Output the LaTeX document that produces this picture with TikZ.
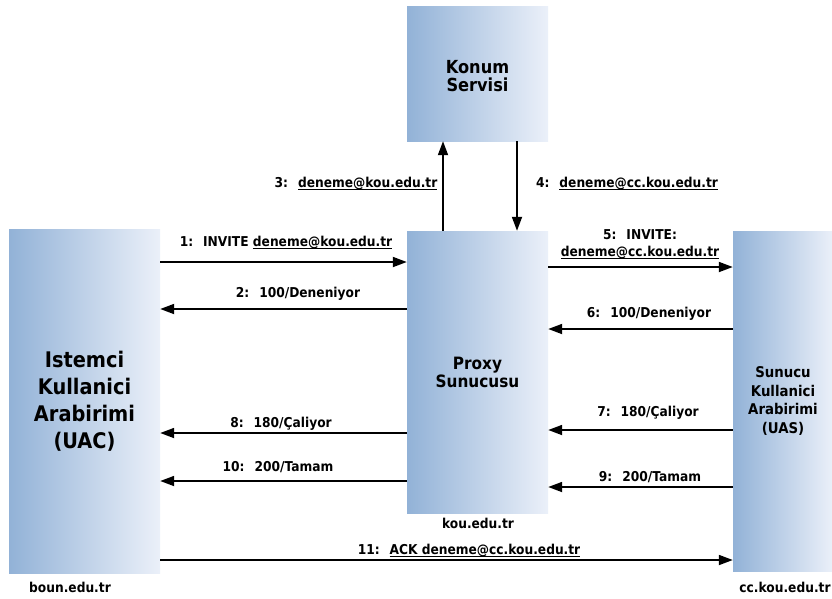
\documentclass[tikz,border=0pt]{standalone}
\usepackage{fontspec}
\setmainfont[FakeStretch=0.9]{DejaVu Sans}
\usetikzlibrary{arrows.meta}
\definecolor{boxL}{RGB}{146,178,215}
\definecolor{boxR}{RGB}{235,240,249}
% underlined address
\newsavebox\addrbox
\newcommand\addr[1]{\sbox\addrbox{#1}\rlap{\rule[-2pt]{\wd\addrbox}{0.75pt}}\usebox\addrbox}
\begin{document}
\begin{tikzpicture}[x=1pt,y=-1pt,
  box/.style={left color=boxL, right color=boxR, draw=none, inner sep=0pt, align=center},
  msg/.style={line width=1.8pt, -{Triangle[length=14pt,width=10pt]}},
  lbl/.style={font=\fontsize{13.6}{17}\selectfont\bfseries, inner sep=0pt, align=center}]
\useasboundingbox (0,0) rectangle (832,598);

% entities
\node[box, minimum width=141pt, minimum height=135pt] (konum) at (477.5,73.5) {};
\node[font=\fontsize{18}{18}\selectfont\bfseries, align=center, inner sep=0pt]
      (konumtxt) at ([yshift=-3pt]konum.center) {Konum\\Servisi};
\node[box, minimum width=151pt, minimum height=344pt,
      font=\fontsize{21.5}{27}\selectfont\bfseries] (uac) at (84.5,401) {Istemci\\Kullanici\\Arabirimi\\(UAC)};
\node[box, minimum width=141pt, minimum height=282pt,
      font=\fontsize{17}{18}\selectfont\bfseries] (proxy) at (477.5,372) {Proxy\\Sunucusu};
\node[box, minimum width=100pt, minimum height=340pt,
      font=\fontsize{14.8}{18.5}\selectfont\bfseries] (uas) at (783,401) {Sunucu\\Kullanici\\Arabirimi\\(UAS)};

% domain names
\node[lbl] (dproxy) at (478,523) {kou.edu.tr};
\node[lbl] (duac) at (70,587) {boun.edu.tr};
\node[lbl] (duas) at (785,587) {cc.kou.edu.tr};

% messages
\draw[msg] (uac.east |- 0,262) -- (proxy.west |- 0,262);
\node[lbl] (l1) at (286,243) {1:~ INVITE \addr{deneme@kou.edu.tr}};
\draw[msg] (proxy.west |- 0,309) -- (uac.east |- 0,309);
\node[lbl] (l2) at (298,294) {2:~ 100/Deneniyor};
\draw[msg] (proxy.north -| 443,0) -- (konum.south -| 443,0);
\node[lbl] (l3) at (356,184) {3:~ \addr{deneme@kou.edu.tr}};
\draw[msg] (konum.south -| 517,0) -- (proxy.north -| 517,0);
\node[lbl] (l4) at (627,184) {4:~ \addr{deneme@cc.kou.edu.tr}};
\draw[msg] (proxy.east |- 0,267) -- (uas.west |- 0,267);
\node[lbl] (l5) at (640,244) {5:~ INVITE:\\\addr{deneme@cc.kou.edu.tr}};
\draw[msg] (uas.west |- 0,329) -- (proxy.east |- 0,329);
\node[lbl] (l6) at (649,314) {6:~ 100/Deneniyor};
\draw[msg] (uas.west |- 0,430) -- (proxy.east |- 0,430);
\node[lbl] (l7) at (648,413) {7:~ 180/Çaliyor};
\draw[msg] (proxy.west |- 0,433) -- (uac.east |- 0,433);
\node[lbl] (l8) at (281,424) {8:~ 180/Çaliyor};
\draw[msg] (uas.west |- 0,487) -- (proxy.east |- 0,487);
\node[lbl] (l9) at (650,477) {9:~ 200/Tamam};
\draw[msg] (proxy.west |- 0,481) -- (uac.east |- 0,481);
\node[lbl] (l10) at (278,467) {10:~ 200/Tamam};
\draw[msg] (uac.east |- 0,560) -- (uas.west |- 0,560);
\node[lbl] (l11) at (469,551) {11:~ \addr{ACK deneme@cc.kou.edu.tr}};
\end{tikzpicture}
\end{document}
